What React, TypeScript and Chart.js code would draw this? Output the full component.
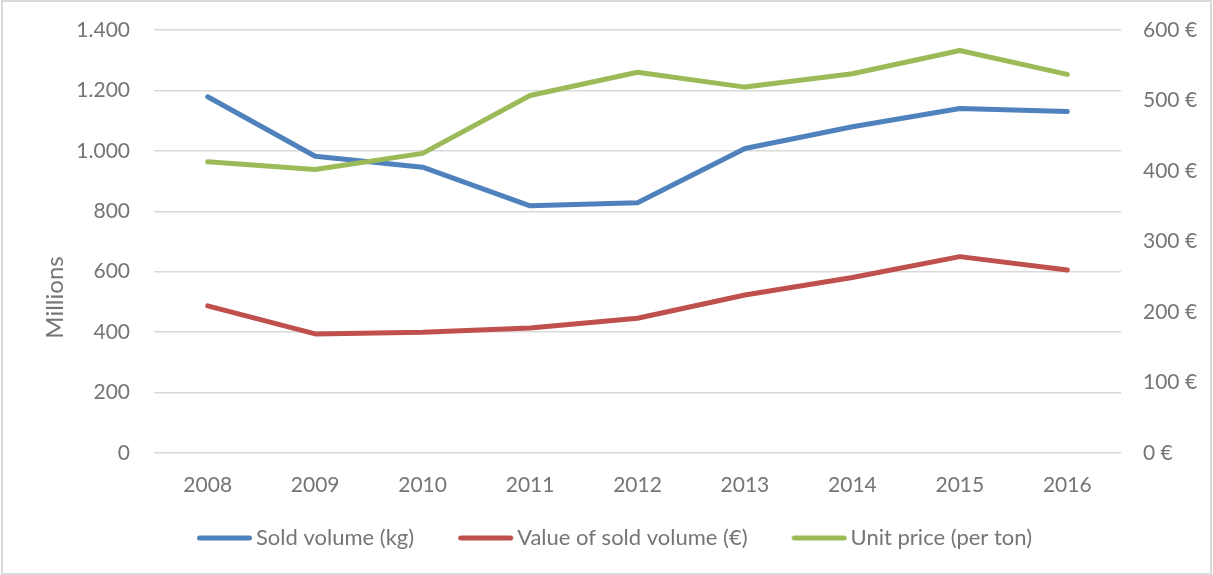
import React, { useEffect, useRef } from "react";
import { Chart, registerables } from "chart.js";

Chart.register(...registerables);

const years = ["2008", "2009", "2010", "2011", "2012", "2013", "2014", "2015", "2016"];
const soldVolume = [1179, 982, 946, 818, 828, 1008, 1080, 1140, 1130];
const valueSold = [487, 394, 400, 414, 446, 523, 581, 650, 606];
const unitPrice = [413, 402, 425, 507, 540, 519, 538, 571, 537];
const seriesNames = ["Sold volume (kg)", "Value of sold volume (€)", "Unit price (per ton)"];
const seriesColors = ["#4F81BD", "#C0504D", "#9BBB59"];
const axisTitle = "Millions";

const FONT = "Lato";
const TEXT = "#757575";
const GRID = "#d9d9d9";

const fmtThousands = (v: number) => String(v).replace(/\B(?=(\d{3})+(?!\d))/g, ".");

// Legend swatch: a round-capped line, placed so that it sits close to its text.
const BOX_W = 64;
function makeSwatch(color: string) {
  const c = document.createElement("canvas");
  c.width = 144;
  c.height = 10;
  const g = c.getContext("2d")!;
  const cx = c.width / 2 - BOX_W / 2; // local x of the legend box's left edge
  g.strokeStyle = color;
  g.lineWidth = 5;
  g.lineCap = "round";
  g.beginPath();
  g.moveTo(cx + 16 + 2.5, 5);
  g.lineTo(cx + 71 - 2.5, 5);
  g.stroke();
  return c;
}

const framePlugin = {
  id: "frame",
  beforeDraw(chart: any) {
    const { ctx, width, height } = chart;
    ctx.save();
    ctx.fillStyle = "#ffffff";
    ctx.fillRect(0, 0, width, height);
    ctx.strokeStyle = GRID;
    ctx.lineWidth = 2;
    ctx.strokeRect(2, 1, width - 4, height - 2);
    ctx.restore();
  },
  afterDraw(chart: any) {
    const { ctx, chartArea } = chart;
    ctx.save();
    ctx.translate(chartArea.left - 99, (chartArea.top + chartArea.bottom) / 2 + 56);
    ctx.rotate(-Math.PI / 2);
    ctx.fillStyle = TEXT;
    ctx.font = `24px ${FONT}`;
    ctx.textAlign = "center";
    ctx.textBaseline = "middle";
    ctx.fillText(axisTitle, 0, 0);
    ctx.restore();
  },
};

export default function App() {
  const ref = useRef<HTMLCanvasElement>(null);
  useEffect(() => {
    document.body.style.margin = "0";
    const swatches = seriesColors.map(makeSwatch);
    const common = {
      fill: false,
      borderWidth: 5,
      pointRadius: 0,
      pointHoverRadius: 0,
      tension: 0,
      borderCapStyle: "round",
      borderJoinStyle: "round",
    };
    const defaultGen = (Chart as any).defaults.plugins.legend.labels.generateLabels;
    const chart = new Chart(ref.current!, {
      type: "line",
      data: {
        labels: years,
        datasets: [
          { ...common, label: seriesNames[0], data: soldVolume, borderColor: seriesColors[0], backgroundColor: seriesColors[0], yAxisID: "y", order: 2 },
          { ...common, label: seriesNames[1], data: valueSold, borderColor: seriesColors[1], backgroundColor: seriesColors[1], yAxisID: "y", order: 3 },
          { ...common, label: seriesNames[2], data: unitPrice, borderColor: seriesColors[2], backgroundColor: seriesColors[2], yAxisID: "y1", order: 1 },
        ] as any,
      },
      options: {
        animation: false,
        responsive: false,
        layout: { padding: { top: 30, left: 0, right: 0, bottom: 16 } },
        plugins: {
          tooltip: { enabled: false },
          legend: {
            position: "bottom",
            labels: {
              usePointStyle: true,
              pointStyleWidth: BOX_W,
              padding: 28,
              color: TEXT,
              font: { family: FONT, size: 22 },
              generateLabels: (ch: any) =>
                defaultGen(ch)
                  .sort((a: any, b: any) => a.datasetIndex - b.datasetIndex)
                  .map((it: any) => ({ ...it, pointStyle: swatches[it.datasetIndex], rotation: 0 })),
            },
          },
        },
        scales: {
          x: {
            offset: true,
            grid: { display: false, drawTicks: false },
            border: { display: false },
            ticks: { color: TEXT, font: { family: FONT, size: 21 }, padding: 20, maxRotation: 0 },
            afterFit: (s: any) => { s.height = 46; },
          },
          y: {
            position: "left",
            min: 0,
            max: 1400,
            grid: { color: GRID, lineWidth: 1.5, drawTicks: false },
            border: { display: false },
            ticks: { stepSize: 200, color: TEXT, font: { family: FONT, size: 21 }, padding: 24, callback: (v: any) => fmtThousands(Number(v)) },
            afterFit: (s: any) => { s.width = 154; s.paddingTop = 0; s.paddingBottom = 0; },
          },
          y1: {
            position: "right",
            min: 0,
            max: 600,
            grid: { display: false, drawTicks: false },
            border: { display: false },
            ticks: { stepSize: 100, color: TEXT, font: { family: FONT, size: 21 }, padding: 22, callback: (v: any) => `${v} €` },
            afterFit: (s: any) => { s.width = 92; s.paddingTop = 0; s.paddingBottom = 0; },
          },
        },
      } as any,
      plugins: [framePlugin],
    });
    return () => chart.destroy();
  }, []);
  return <canvas ref={ref} width={1213} height={575} style={{ display: "block" }} />;
}
